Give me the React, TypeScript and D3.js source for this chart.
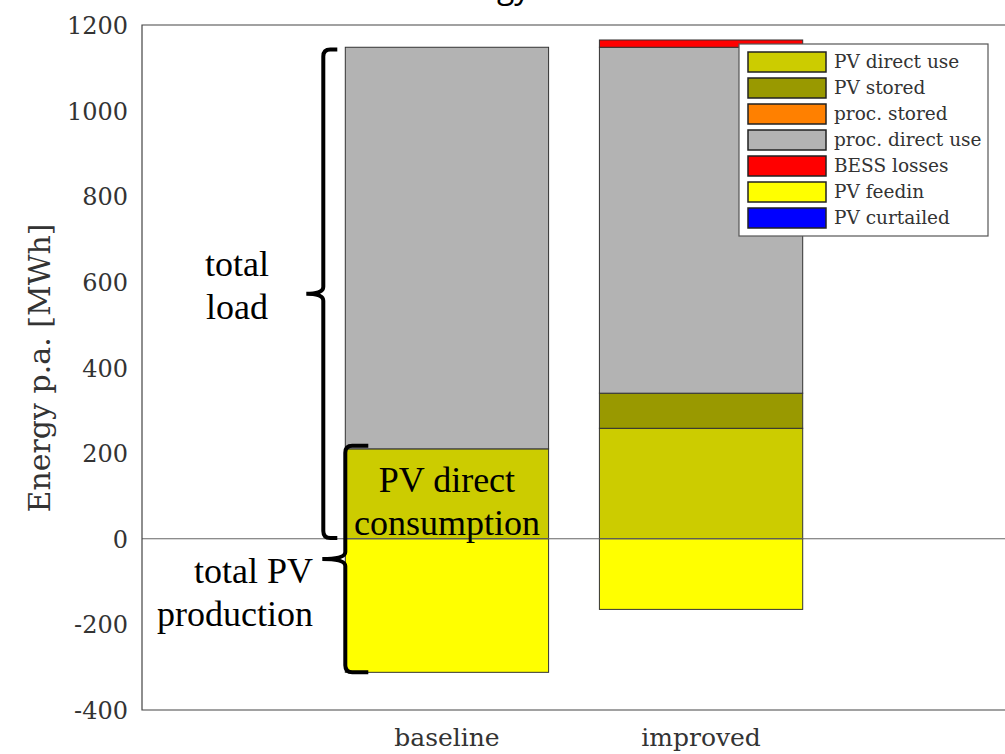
import { useEffect, useRef } from "react";
import * as d3 from "d3";

const width = 1005;
const height = 754;
const plot = { left: 142, right: 1006, top: 25, bottom: 710 };

const categories = ["baseline", "improved"];
const seriesNames = [
  "PV direct use",
  "PV stored",
  "proc. stored",
  "proc. direct use",
  "BESS losses",
  "PV feedin",
  "PV curtailed",
];
const seriesColors = ["#cccc00", "#999900", "#ff8000", "#b3b3b3", "#ff0000", "#ffff00", "#0000ff"];

// MWh per year
const pvDirectUse = [210, 258];
const pvStored = [0, 82];
const procStored = [0, 0];
const procDirectUse = [938, 808];
const bessLosses = [0, 17];
const pvFeedin = [-312, -165];
const pvCurtailed = [0, 0];

const yTicks = [-400, -200, 0, 200, 400, 600, 800, 1000, 1200];

function App() {
  const d3Node = useRef(null);

  useEffect(() => {
    document.body.style.margin = "0";
    const svg = d3.select(d3Node.current);
    svg.selectAll("*").remove();

    const rows = categories.map((c, i) => ({
      cat: c,
      idx: i + 1,
      "PV direct use": pvDirectUse[i],
      "PV stored": pvStored[i],
      "proc. stored": procStored[i],
      "proc. direct use": procDirectUse[i],
      "BESS losses": bessLosses[i],
      "PV feedin": pvFeedin[i],
      "PV curtailed": pvCurtailed[i],
    }));

    const x = d3.scaleLinear().domain([-0.2, 3.2]).range([plot.left, plot.right]);
    const y = d3.scaleLinear().domain([-400, 1200]).range([plot.bottom, plot.top]);
    const barW = 0.8;

    const stack = d3
      .stack()
      .keys(seriesNames)
      .offset(d3.stackOffsetDiverging);
    const layers = stack(rows as any);

    // title, mostly cut off above the picture
    svg
      .append("text")
      .attr("x", 490)
      .attr("y", -2)
      .attr("text-anchor", "middle")
      .attr("font-family", "'Open Sans', sans-serif")
      .attr("font-size", 32)
      .text("Annual PV energy distribution");

    // bars
    layers.forEach((layer, k) => {
      svg
        .append("g")
        .selectAll("rect")
        .data(layer)
        .enter()
        .append("rect")
        .attr("x", (d: any) => x(d.data.idx - barW / 2))
        .attr("width", x(barW) - x(0))
        .attr("y", (d) => y(Math.max(d[0], d[1])))
        .attr("height", (d) => Math.abs(y(d[0]) - y(d[1])))
        .attr("fill", seriesColors[k])
        .attr("stroke", (d) => (d[0] === d[1] ? "none" : "#333"))
        .attr("stroke-width", 1);
    });

    // zero line
    svg
      .append("line")
      .attr("x1", plot.left)
      .attr("x2", plot.right)
      .attr("y1", y(0))
      .attr("y2", y(0))
      .attr("stroke", "#666")
      .attr("stroke-width", 1);

    // axes box (no right edge in view)
    svg
      .append("path")
      .attr("d", `M${plot.right},${plot.top}H${plot.left}V${plot.bottom}H${plot.right}`)
      .attr("fill", "none")
      .attr("stroke", "#444")
      .attr("stroke-width", 1.2);

    // y ticks
    svg
      .append("g")
      .selectAll("text")
      .data(yTicks)
      .enter()
      .append("text")
      .attr("x", plot.left - 14)
      .attr("y", (d) => y(d) + 9)
      .attr("text-anchor", "end")
      .attr("font-family", "'DejaVu Serif', serif")
      .attr("font-size", 24)
      .attr("fill", "#333")
      .text((d) => d);

    svg
      .append("text")
      .attr("transform", `translate(50,${368}) rotate(-90)`)
      .attr("text-anchor", "middle")
      .attr("font-family", "'DejaVu Serif', serif")
      .attr("font-size", 30)
      .attr("fill", "#333")
      .text("Energy p.a. [MWh]");

    // x labels
    svg
      .append("g")
      .selectAll("text")
      .data(rows)
      .enter()
      .append("text")
      .attr("x", (d) => x(d.idx))
      .attr("y", 746)
      .attr("text-anchor", "middle")
      .attr("font-family", "'DejaVu Serif', serif")
      .attr("font-size", 25)
      .attr("fill", "#333")
      .text((d) => d.cat);

    // braces
    const brace = (top: number, bottom: number, xv: number, depth: number, hook: number) => {
      const mid = (top + bottom) / 2;
      const r = 7;
      return (
        `M${xv + hook},${top}H${xv + r}Q${xv},${top} ${xv},${top + r}` +
        `V${mid - r}Q${xv},${mid} ${xv - depth},${mid}` +
        `Q${xv},${mid} ${xv},${mid + r}` +
        `V${bottom - r}Q${xv},${bottom} ${xv + r},${bottom}H${xv + hook}`
      );
    };
    const bx = x(1 - barW / 2);
    svg
      .append("path")
      .attr("d", brace(y(1143), y(2), bx - 22, 17, 14))
      .attr("fill", "none")
      .attr("stroke", "#000")
      .attr("stroke-width", 4);
    svg
      .append("path")
      .attr("d", brace(y(217), y(-312), bx, 23, 23))
      .attr("fill", "none")
      .attr("stroke", "#000")
      .attr("stroke-width", 4);

    const note = (lines: string[], xv: number, yv: number, anchor: string) => {
      const t = svg
        .append("text")
        .attr("font-family", "'Liberation Serif', serif")
        .attr("font-size", 36)
        .attr("text-anchor", anchor)
        .attr("fill", "#000");
      lines.forEach((l, i) => {
        t.append("tspan").attr("x", xv).attr("y", yv + i * 43).text(l);
      });
    };
    note(["total", "load"], 237, 276, "middle");
    note(["PV direct", "consumption"], x(1), 492, "middle");
    note(["total PV", "production"], 313, 583, "end");

    // legend
    const lg = svg.append("g").attr("transform", "translate(739,44)");
    lg.append("rect")
      .attr("width", 249)
      .attr("height", 192)
      .attr("fill", "#fff")
      .attr("stroke", "#555")
      .attr("stroke-width", 1.2);
    seriesNames.forEach((s, i) => {
      lg.append("rect")
        .attr("x", 9)
        .attr("y", 8 + i * 26)
        .attr("width", 78)
        .attr("height", 20)
        .attr("fill", seriesColors[i])
        .attr("stroke", "#222")
        .attr("stroke-width", 1.5);
      lg.append("text")
        .attr("x", 95)
        .attr("y", 24 + i * 26)
        .attr("font-family", "'DejaVu Serif', serif")
        .attr("font-size", 18.5)
        .attr("fill", "#333")
        .text(s);
    });
  }, []);

  return (
    <svg
      ref={d3Node}
      width={width}
      height={height}
      style={{ display: "block", background: "#fff" }}
    />
  );
}

export default App;
